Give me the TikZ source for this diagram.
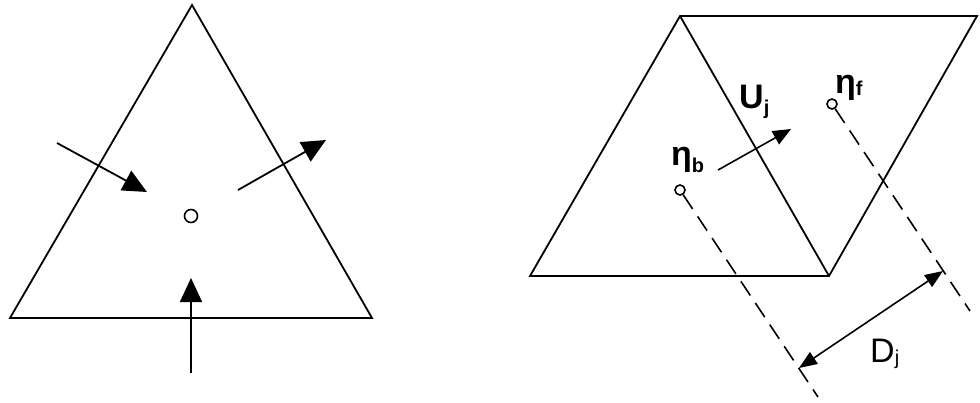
\documentclass[tikz,border=0pt]{standalone}
\usepackage{fontspec}
\setmainfont{Liberation Sans}
\usetikzlibrary{arrows.meta,calc}
\newcommand{\lowsub}[2]{\raisebox{-#2}{\fontsize{20}{24}\selectfont #1}}
\begin{document}
\begin{tikzpicture}[x=1pt,y=-1pt,
  edge/.style={line width=1.8pt, line join=miter},
  bigarrow/.style={line width=1.8pt,-{Triangle[length=24pt,width=22pt]}},
  smallarrow/.style={line width=1.6pt,-{Triangle[length=18pt,width=15pt]}},
  dimarrow/.style={line width=1.6pt,{Triangle[length=18pt,width=14pt]}-{Triangle[length=18pt,width=14pt]}},
  dashedline/.style={line width=1.6pt, dash pattern=on 17pt off 9pt},
  dot/.style={circle,draw,line width=1.6pt,inner sep=0pt,minimum size=10pt},
  lbl/.style={font=\fontsize{34}{40}\selectfont, inner sep=0pt, anchor=base west},
  blbl/.style={lbl, font=\fontsize{34}{40}\selectfont\bfseries}]
\useasboundingbox (0,0) rectangle (980,402);
% left triangle
\coordinate (A) at (192,5);
\coordinate (L) at (10,318);
\coordinate (R) at (372,318);
\draw[edge] (A) -- (L) -- (R) -- cycle;
\node[dot, minimum size=13pt] (c) at (191,216) {};
\coordinate (a1s) at (57,143);
\coordinate (a1e) at (147,192);
\coordinate (a2s) at (238,190);
\coordinate (a2e) at (326,140);
\coordinate (a3s) at (191,373);
\coordinate (a3e) at (191,278);
\draw[bigarrow] (a1s) -- (a1e);
\draw[bigarrow] (a2s) -- (a2e);
\draw[bigarrow] (a3s) -- (a3e);
% right diagram
\coordinate (P1) at (530,276);
\coordinate (P2) at (680,16);
\coordinate (P3) at (829,276);
\coordinate (P4) at (977,16);
\draw[edge] (P1) -- (P2) -- (P4) -- (P3) -- cycle;
\draw[edge] (P2) -- (P3);
\node[dot] (eb) at (680,190) {};
\node[dot] (ef) at (832,104) {};
\coordinate (bEnd) at (818,397);
\coordinate (fEnd) at (970,311);
\draw[dashedline] (eb) -- (bEnd);
\draw[dashedline] (ef) -- (fEnd);
\coordinate (d1) at (799,368);
\coordinate (d2) at (943,271);
\draw[dimarrow] (d1) -- (d2);
\coordinate (u1) at (718,170);
\coordinate (u2) at (791,129);
\draw[smallarrow] (u1) -- (u2);
\node[blbl] (lb) at (671,165) {η\lowsub{b}{7pt}};
\node[blbl] (lu) at (739,108) {U\lowsub{j}{6pt}};
\node[blbl] (lf) at (835,93) {η\lowsub{f}{2pt}};
\node[lbl] (ld) at (870,362) {D\lowsub{j}{2pt}};
\end{tikzpicture}
\end{document}
